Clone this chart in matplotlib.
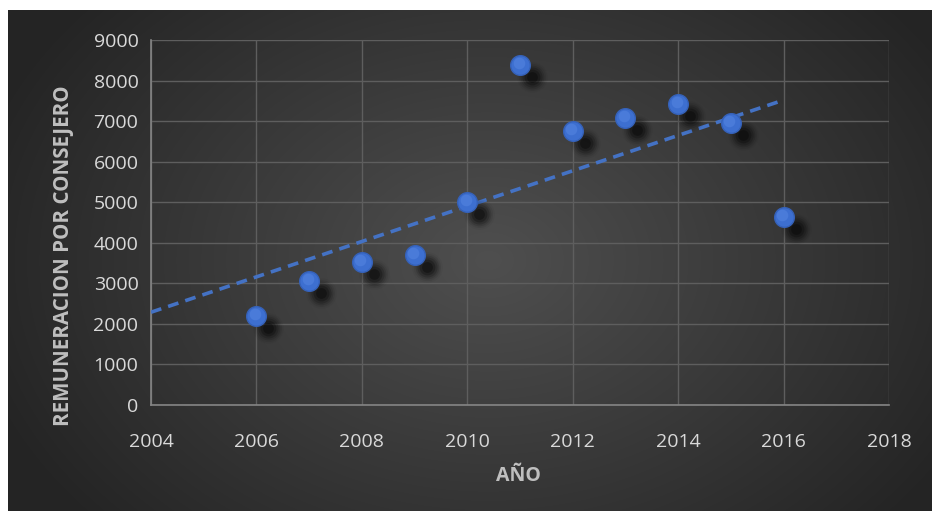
import numpy as np
import matplotlib
matplotlib.use("Agg")
import matplotlib.pyplot as plt
from matplotlib import transforms

# remuneracion media por consejero, por año
anios = [2006, 2007, 2008, 2009, 2010, 2011, 2012, 2013, 2014, 2015, 2016]
remuneracion = [2200, 3060, 3530, 3700, 5000, 8390, 6760, 7080, 7420, 6950, 4640]

x_ticks = [2004, 2006, 2008, 2010, 2012, 2014, 2016, 2018]
y_ticks = [0, 1000, 2000, 3000, 4000, 5000, 6000, 7000, 8000, 9000]

azul = "#4472c4"
texto = "#d9d9d9"
plt.rcParams["font.family"] = ["Open Sans", "DejaVu Sans"]

fig = plt.figure(figsize=(9.32, 5.11), dpi=100)
fig.patch.set_facecolor("white")

# fondo oscuro con degradado radial
bg = fig.add_axes([8 / 932, 0, 924 / 932, 501 / 511])
bg.set_axis_off()
h, w = 501, 924
yy, xx = np.mgrid[0:h, 0:w]
r = np.sqrt(((xx - 480) / 540) ** 2 + ((yy - 250) / 400) ** 2)
val = np.clip(0.31 - 0.17 * r, 0.145, 0.31)
bg.imshow(np.dstack([val, val, val]), aspect="auto", interpolation="bilinear")

ax = fig.add_axes([151 / 932, 106 / 511, 738 / 932, 365 / 511])
ax.patch.set_alpha(0)
ax.set_xlim(2004, 2018)
ax.set_ylim(0, 9000)
ax.set_xticks(x_ticks)
ax.set_yticks(y_ticks)
ax.grid(True, color="#5e5e5e", linewidth=1)
ax.set_axisbelow(True)
for side in ["top", "right"]:
    ax.spines[side].set_visible(False)
for side in ["left", "bottom"]:
    ax.spines[side].set_color("#858585")
    ax.spines[side].set_linewidth(1.2)
ax.tick_params(length=0, colors=texto, labelsize=14, pad=9)
ax.tick_params(axis="x", pad=20)

# linea de tendencia (ajuste lineal) extendida hacia 2004
coef = np.polyfit(anios, remuneracion, 1)
xt = np.array([2004, 2016])
ax.plot(xt, np.polyval(coef, xt), color=azul, linestyle=(0, (3, 2)),
        linewidth=2.6, zorder=3)

# sombra difusa de los marcadores
for s, a in [(480, 0.04), (380, 0.07), (290, 0.11), (210, 0.16), (130, 0.24), (60, 0.3)]:
    sh = transforms.offset_copy(ax.transData, fig=fig, x=12, y=-12, units="dots")
    ax.scatter(anios, remuneracion, s=s, color="black", alpha=a,
               linewidths=0, transform=sh, zorder=4)

ax.scatter(anios, remuneracion, s=200, color="#3d6fd0", edgecolors="#3561b8",
           linewidths=1, zorder=5)
hl = transforms.offset_copy(ax.transData, fig=fig, x=-1.5, y=2, units="dots")
ax.scatter(anios, remuneracion, s=70, color="#5a8be6", alpha=0.45,
           linewidths=0, transform=hl, zorder=6)

ax.set_xlabel("AÑO", color="#bfbfbf", fontsize=14, fontweight="bold")
ax.xaxis.set_label_coords(0.498, -0.168)
ax.set_ylabel("REMUNERACION POR CONSEJERO", color="#bfbfbf", fontsize=14.8,
              fontweight="bold")
ax.yaxis.set_label_coords(-0.105, 0.408)

fig.savefig("out.png", dpi=100)
